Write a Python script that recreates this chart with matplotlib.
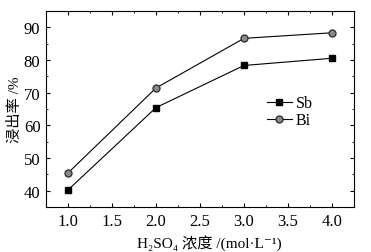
import matplotlib.pyplot as plt
from matplotlib.ticker import MultipleLocator

plt.rcParams['font.family'] = ['Liberation Serif', 'Noto Sans CJK SC', 'DejaVu Serif']

conc = [1.0, 2.0, 3.0, 4.0]
sb = [40.2, 65.4, 78.3, 80.5]
bi = [45.4, 71.4, 86.6, 88.3]

fig = plt.figure(figsize=(3.71, 2.53), dpi=100)
ax = fig.add_axes([0.124, 0.178, 0.830, 0.775])

ax.plot(conc, sb, color='black', lw=0.8, marker='s', ms=4.5,
        mfc='black', mec='black', label='Sb')
ax.plot(conc, bi, color='black', lw=0.8, marker='o', ms=5,
        mfc='#8a8a8a', mec='#333333', label='Bi')

ax.set_xlim(0.75, 4.25)
ax.set_ylim(35, 95)
ax.set_xticks([1.0, 1.5, 2.0, 2.5, 3.0, 3.5, 4.0])
ax.xaxis.set_minor_locator(MultipleLocator(0.25))
ax.yaxis.set_major_locator(MultipleLocator(10))
ax.yaxis.set_minor_locator(MultipleLocator(5))
ax.xaxis.set_major_formatter(plt.FormatStrFormatter('%.1f'))
ax.tick_params(which='both', direction='in', top=True, right=True, labelsize=12)
ax.tick_params(which='major', length=3, pad=4)
ax.tick_params(which='minor', length=1.5)

ax.set_ylabel('浸出率 /%', fontsize=11, labelpad=1)
ax.set_xlabel('H₂SO₄ 浓度 /(mol·L⁻¹)', fontsize=11, labelpad=4)
ax.xaxis.label.set_x(0.53)

ax.legend(loc='center left', bbox_to_anchor=(0.67, 0.485), frameon=False,
          fontsize=11.5, handlelength=1.6, handletextpad=0.2, labelspacing=0.05)

fig.savefig('out.png', dpi=100)
